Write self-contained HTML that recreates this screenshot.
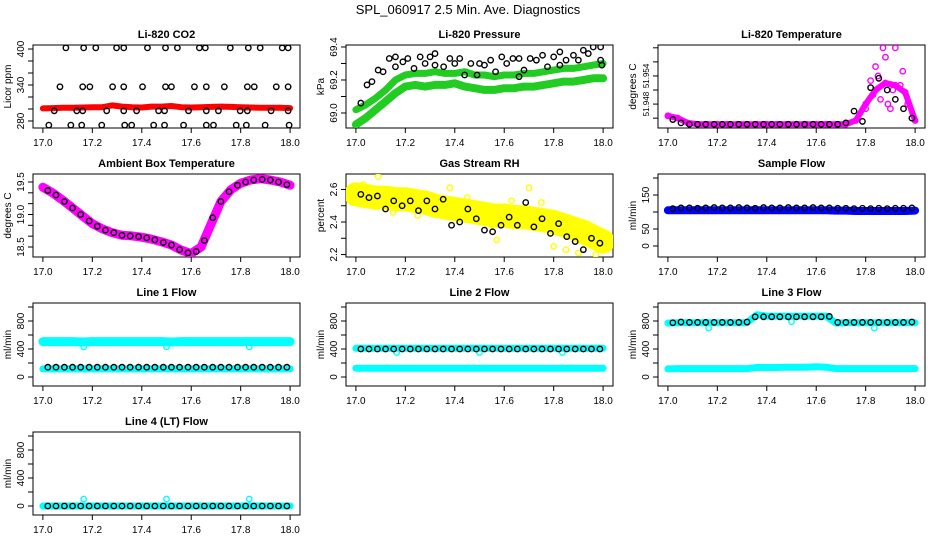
<!DOCTYPE html>
<html><head><meta charset="utf-8"><style>
html,body{margin:0;padding:0;background:#fff}
svg{display:block;font-family:"Liberation Sans",sans-serif}
</style></head><body>
<svg id="chart" width="936" height="540" viewBox="0 0 936 540">
<text x="468" y="14" text-anchor="middle" font-size="13">SPL_060917  2.5 Min. Ave. Diagnostics</text>
</svg>
<script>
// ---- shared time grids ----
const tGrid=[17.00,17.04,17.08,17.12,17.16,17.20,17.24,17.28,17.32,17.36,17.40,17.44,17.48,17.52,17.56,17.60,17.64,17.68,17.72,17.76,17.80,17.84,17.88,17.92,17.96,18.00];
const bGrid=[17.02,17.053,17.087,17.12,17.153,17.187,17.22,17.253,17.287,17.32,17.353,17.387,17.42,17.453,17.487,17.52,17.553,17.587,17.62,17.653,17.687,17.72,17.753,17.787,17.82,17.853,17.887,17.92,17.953,17.987];
const xTicks=[17.0,17.2,17.4,17.6,17.8,18.0];
// ---- CO2 ----
const co2Red=[301,301.5,302,302,302.5,303,303,306,304,303,302.5,304,304,305,303,302.5,303,303.5,304,303.5,303,302.5,302,302,302,301.5];
const co2BlackT=[17.093,17.165,17.214,17.298,17.327,17.423,17.496,17.544,17.633,17.657,17.758,17.831,17.879,17.968,17.992,
17.069,17.161,17.19,17.282,17.327,17.403,17.496,17.52,17.613,17.661,17.734,17.827,17.855,17.944,17.992,
17.046,17.137,17.161,17.258,17.327,17.379,17.468,17.492,17.589,17.661,17.71,17.798,17.827,17.923,17.992,
17.024,17.113,17.157,17.238,17.331,17.359,17.448,17.492,17.569,17.661,17.69,17.782,17.823,17.899,17.996];
const co2BlackV=[402,402,402,402,402,402,402,402,402,402,402,402,402,402,402,
337,337,337,337,337,337,337,337,337,337,337,337,337,337,337,
297,297,297,297,297,297,297,297,297,297,297,297,297,297,297,
273,273,273,273,273,273,273,273,273,273,273,273,273,273,273];
// ---- Pressure ----
const presA=[69.02,69.05,69.09,69.14,69.20,69.23,69.24,69.24,69.25,69.24,69.24,69.25,69.23,69.23,69.22,69.23,69.23,69.24,69.24,69.25,69.26,69.27,69.27,69.28,69.29,69.30];
const presB=[68.93,68.97,69.02,69.07,69.12,69.16,69.17,69.16,69.17,69.17,69.18,69.16,69.15,69.14,69.14,69.15,69.15,69.16,69.16,69.17,69.18,69.19,69.19,69.20,69.21,69.21];
const presBlackT=[17.02,17.045,17.065,17.09,17.11,17.135,17.16,17.16,17.19,17.21,17.235,17.26,17.28,17.30,17.32,17.32,17.355,17.38,17.40,17.42,17.44,17.465,17.49,17.50,17.52,17.545,17.565,17.59,17.61,17.635,17.66,17.66,17.68,17.705,17.73,17.755,17.775,17.80,17.825,17.825,17.85,17.88,17.90,17.92,17.94,17.96,17.99,17.99,17.995];
const presBlackV=[69.06,69.17,69.19,69.26,69.25,69.33,69.34,69.28,69.31,69.33,69.27,69.34,69.30,69.34,69.36,69.29,69.28,69.33,69.30,69.33,69.23,69.30,69.23,69.30,69.29,69.32,69.25,69.34,69.30,69.33,69.33,69.22,69.26,69.33,69.32,69.35,69.28,69.34,69.37,69.29,69.32,69.35,69.32,69.38,69.36,69.40,69.40,69.32,69.29];
// ---- Li-820 temperature ----
const ltMag=[51.9455,51.9450,51.9440,51.9437,51.9437,51.9437,51.9437,51.9437,51.9437,51.9437,51.9437,51.9437,51.9437,51.9437,51.9437,51.9437,51.9437,51.9437,51.9437,51.9445,51.9480,51.9510,51.9525,51.9520,51.9505,51.9445];
const ltMagXT=[17.82,17.84,17.87,17.88,17.92,17.95,17.90,17.86,17.80,17.97,17.85,17.91,17.83,17.89,17.94];
const ltMagXV=[51.953,51.956,51.960,51.958,51.960,51.955,51.947,51.949,51.947,51.948,51.954,51.951,51.950,51.948,51.952];
const ltBlack=[51.9447,51.9440,51.9437,51.9437,51.9437,51.9437,51.9437,51.9437,51.9437,51.9437,51.9437,51.9437,51.9437,51.9437,51.9437,51.9437,51.9437,51.9437,51.9437,51.9437,51.9437,51.9440,51.9465,51.9443,51.9515,51.9535,51.9510,51.9490,51.9470,51.9450];
// ---- Ambient temp ----
const atMag=[19.42,19.33,19.22,19.10,18.98,18.86,18.78,18.72,18.68,18.67,18.65,18.62,18.58,18.53,18.45,18.40,18.50,18.85,19.20,19.38,19.48,19.53,19.55,19.53,19.50,19.45];
const atBlack=[19.37,19.30,19.20,19.10,19.00,18.90,18.82,18.76,18.72,18.68,18.67,18.66,18.64,18.61,18.57,18.53,18.46,18.41,18.43,18.60,18.95,19.20,19.35,19.45,19.50,19.53,19.54,19.53,19.50,19.46];
// ---- Gas RH ----
const rhYellow=[2.57,2.56,2.55,2.55,2.54,2.54,2.53,2.52,2.50,2.49,2.48,2.47,2.46,2.45,2.44,2.44,2.43,2.43,2.42,2.41,2.40,2.38,2.36,2.34,2.31,2.28];
const rhYelXT=[17.09,17.57,17.85,17.90,17.97,17.70,17.38,17.03,17.25,17.63,17.80,17.95,17.15,17.45,17.55,17.75];
const rhYelXV=[2.68,2.29,2.23,2.21,2.20,2.61,2.61,2.63,2.44,2.53,2.25,2.36,2.46,2.55,2.38,2.52];
const rhBlack=[2.57,2.55,2.56,2.48,2.53,2.50,2.53,2.47,2.53,2.48,2.54,2.38,2.40,2.48,2.42,2.35,2.34,2.38,2.43,2.38,2.52,2.37,2.42,2.33,2.39,2.31,2.28,2.23,2.30,2.27];
// ---- Sample flow ----
const sfBlue=[105,105,105,105,105,105,105,105,105,105,105,105,105,105,105,105,105,104,104,103,103,103,103,103,103,104];
const sfBlack=[110,112,112,111,112,113,112,112,113,112,111,113,112,112,113,112,112,113,112,112,111,111,110,111,110,111,110,111,111,112];
// ---- Line flows ----
const l1CyanHi=[505,505,505,505,500,505,505,505,505,505,505,505,505,500,505,505,505,505,505,505,505,505,505,505,505,505];
const l1CyanLo=[115,115,115,115,115,115,115,115,115,115,115,115,115,115,115,115,115,115,115,115,115,115,115,115,115,115];
const l1DipT=[17.165,17.5,17.835];
const l1DipV=[430,430,430];
const l1Black=[140,140,140,140,140,140,140,140,140,140,140,140,140,140,140,140,140,140,140,140,140,140,140,140,140,140,140,140,140,140];
const l2CyanHi=[410,410,410,410,410,410,410,410,410,410,410,410,410,410,410,410,410,410,410,410,410,410,410,410,410,410];
const l2CyanLo=[125,125,125,125,125,125,125,125,125,125,125,125,125,125,125,125,125,125,125,125,125,125,125,125,125,125];
const l2DipT=[17.165,17.5,17.835];
const l2DipV=[350,350,350];
const l2Black=[400,400,400,400,400,400,400,400,400,400,400,400,400,400,400,400,400,400,400,400,400,400,400,400,400,400,400,400,400,400];
const l3CyanHi=[770,775,775,775,775,775,775,775,775,890,870,870,870,870,870,870,870,770,775,775,775,775,775,775,775,775];
const l3CyanLo=[115,120,120,120,120,120,120,120,120,135,135,135,140,140,140,145,140,120,120,120,120,120,120,120,120,120];
const l3DipT=[17.165,17.5,17.835];
const l3DipV=[700,790,700];
const l3Black=[775,785,780,780,780,780,780,780,780,785,860,860,860,860,860,860,860,860,860,865,780,780,780,780,780,780,780,780,780,785];
const l4Cyan=[0,0,0,0,0,0,0,0,0,0,0,0,0,0,0,0,0,0,0,0,0,0,0,0,0,0];
const l4SpikeT=[17.165,17.5,17.835];
const l4SpikeV=[100,100,100];
const l4Black=[0,0,0,0,0,0,0,0,0,0,0,0,0,0,0,0,0,0,0,0,0,0,0,0,0,0,0,0,0,0];

const NS='http://www.w3.org/2000/svg';
const svg=document.getElementById('chart');
function mk(tag,attrs,parent){const e=document.createElementNS(NS,tag);for(const k in attrs)e.setAttribute(k,attrs[k]);(parent||svg).appendChild(e);return e;}
const colL=[33,346,658], rowT=[45,174,303,432], W=267, H=83;

function panel(c,r,name,title,ylab,vTop,vBot,ticks,labels,lfs){
  const L=colL[c],T=rowT[r];
  const g=mk('g',{});
  
  
  const X=t=>L+(t-16.96)/1.08*W;
  const Y=v=>T+(vTop-v)/(vTop-vBot)*H;
  const box=mk('rect',{x:L,y:T,width:W,height:H,fill:'none',stroke:'#000','stroke-width':1},g);
  
  
  const tt=mk('text',{x:L+W/2,y:T-7,'text-anchor':'middle','font-size':11,'font-weight':'bold'},g);
  tt.textContent=title;
  
  
  const xa=mk('g',{},g);
  
  
  mk('line',{x1:X(17),x2:X(18),y1:T+H,y2:T+H,stroke:'#000'},xa);
  xTicks.forEach(t=>{
    mk('line',{x1:X(t),x2:X(t),y1:T+H,y2:T+H+5,stroke:'#000'},xa);
    const lb=mk('text',{x:X(t),y:T+H+18,'text-anchor':'middle','font-size':10},xa);
    lb.textContent=t.toFixed(1);
    
    
  });
  const ya=mk('g',{},g);
  
  
  mk('line',{x1:L,x2:L,y1:Y(ticks[0]),y2:Y(ticks[ticks.length-1]),stroke:'#000'},ya);
  ticks.forEach(v=>mk('line',{x1:L-5,x2:L,y1:Y(v),y2:Y(v),stroke:'#000'},ya));
  labels.forEach(v=>{
    const lb=mk('text',{x:0,y:0,'text-anchor':'middle','font-size':lfs||10,transform:`translate(${L-9},${Y(+v)}) rotate(-90)`},ya);
    lb.textContent=String(v);
    
    
  });
  const yl=mk('text',{x:0,y:0,'text-anchor':'middle','font-size':10,transform:`translate(${L-22},${T+H/2}) rotate(-90)`},ya);
  yl.textContent=ylab;
  
  
  const clip='clip'+c+r;
  const cp=mk('clipPath',{id:clip},g);mk('rect',{x:L,y:T,width:W,height:H},cp);
  const plot=mk('g',{'clip-path':`url(#${clip})`},g);
  return {
    band(ts,vs,color,w,nm){
      const pts=ts.map((t,i)=>X(t).toFixed(1)+','+Y(vs[i]).toFixed(1)).join(' ');
      const pl=mk('polyline',{points:pts,fill:'none',stroke:color,'stroke-width':w,'stroke-linejoin':'round','stroke-linecap':'round'},plot);
      
      
    },
    pts(ts,vs,color,nm,rad){
      const sg=mk('g',{},plot);
      
      
      ts.forEach((t,i)=>{
        const ci=mk('circle',{cx:X(t),cy:Y(vs[i]),r:rad||2.7,fill:'none',stroke:color,'stroke-width':1.4},sg);
        
        
      });
    }
  };
}
function rng(a,b,s){const o=[];for(let v=a;v<=b+1e-9;v+=s)o.push(+v.toFixed(4));return o;}

let p=panel(0,0,'co2','Li-820 CO2','Licor ppm',406.7,268.3,rng(280,400,20),[280,340,400]);
p.band(tGrid,co2Red,'#f00',6,'co2-red-series');
p.pts(co2BlackT,co2BlackV,'#000','co2-black-series');
p=panel(1,0,'pressure','Li-820 Pressure','kPa',69.412,68.909,rng(69.0,69.4,0.1),['69.0','69.2','69.4']);
p.band(tGrid,presA,'#2c2',7,'pressure-green-upper');
p.band(tGrid,presB,'#2c2',8,'pressure-green-lower');
p.pts(presBlackT,presBlackV,'#000','pressure-black-series');
p=panel(2,0,'li-temp','Li-820 Temperature','degrees C',51.9606,51.9429,rng(51.945,51.960,0.003),['51.948','51.954'],8);
p.band(tGrid,ltMag,'#f0f',6,'li-temp-magenta-series');
p.pts(tGrid,ltMag,'#f0f','li-temp-magenta-points');
p.pts(ltMagXT,ltMagXV,'#f0f','li-temp-magenta-scatter');
p.pts(bGrid,ltBlack,'#000','li-temp-black-series');
p=panel(0,1,'ambient-temp','Ambient Box Temperature','degrees C',19.623,18.346,rng(18.5,19.5,1/6),['18.5','19.0','19.5']);
p.band(tGrid,atMag,'#f0f',9,'ambient-magenta-series');
p.pts(bGrid,atBlack,'#000','ambient-black-series');
p=panel(1,1,'gas-rh','Gas Stream RH','percent',2.695,2.185,rng(2.2,2.6,0.1),['2.2','2.4','2.6']);
p.band(tGrid,rhYellow,'#ff0',24,'rh-yellow-band');
p.pts(rhYelXT,rhYelXV,'#ff0','rh-yellow-scatter');
p.pts(bGrid,rhBlack,'#000','rh-black-series');
p=panel(2,1,'sample-flow','Sample Flow','ml/min',211.8,-32.4,rng(0,200,50),[0,50,150]);
p.band(tGrid,sfBlue,'#00f',8,'sample-flow-blue-series');
p.pts(bGrid,sfBlack,'#000','sample-flow-black-series');
const fT=rng(0,1000,200);
p=panel(0,2,'line1-flow','Line 1 Flow','ml/min',1057,-128.6,fT,[0,400,800]);
p.band(tGrid,l1CyanHi,'#0ff',9,'line1-cyan-high');
p.band(tGrid,l1CyanLo,'#0ff',7,'line1-cyan-low');
p.pts(l1DipT,l1DipV,'#0ff','line1-cyan-dips');
p.pts(bGrid,l1Black,'#000','line1-black-series');
p=panel(1,2,'line2-flow','Line 2 Flow','ml/min',1057,-128.6,fT,[0,400,800]);
p.band(tGrid,l2CyanHi,'#0ff',7,'line2-cyan-high');
p.band(tGrid,l2CyanLo,'#0ff',7,'line2-cyan-low');
p.pts(l2DipT,l2DipV,'#0ff','line2-cyan-dips');
p.pts(bGrid,l2Black,'#000','line2-black-series');
p=panel(2,2,'line3-flow','Line 3 Flow','ml/min',1057,-128.6,fT,[0,400,800]);
p.band(tGrid,l3CyanHi,'#0ff',7,'line3-cyan-high');
p.band(tGrid,l3CyanLo,'#0ff',7,'line3-cyan-low');
p.pts(l3DipT,l3DipV,'#0ff','line3-cyan-dips');
p.pts(bGrid,l3Black,'#000','line3-black-series');
p=panel(0,3,'line4-flow','Line 4 (LT) Flow','ml/min',1057,-128.6,fT,[0,400,800]);
p.band(tGrid,l4Cyan,'#0ff',7,'line4-cyan-series');
p.pts(l4SpikeT,l4SpikeV,'#0ff','line4-cyan-spikes');
p.pts(bGrid,l4Black,'#000','line4-black-series');
</script>
</body></html>
